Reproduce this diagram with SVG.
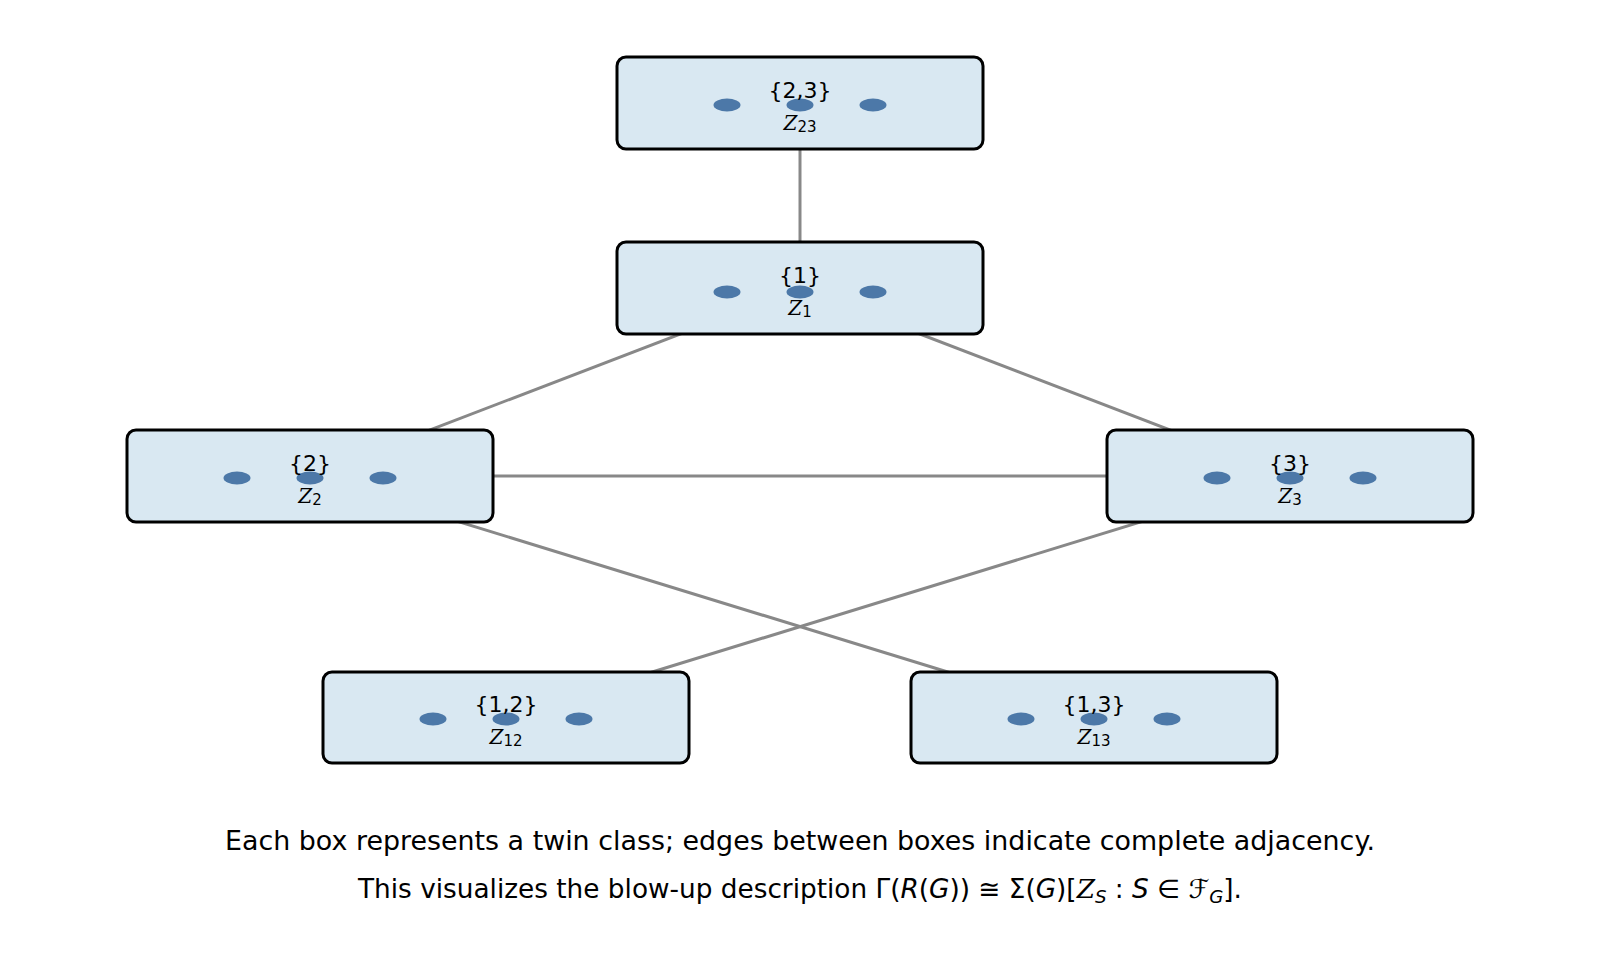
<svg xmlns="http://www.w3.org/2000/svg" width="1600" height="953" viewBox="0 0 1600 953">
<style>
.box{fill:#d9e8f2;stroke:#000;stroke-width:3;}
.dot{fill:#4c78a8;}
.edge{stroke:#888;stroke-width:3;fill:none;}
.lab{font-family:"DejaVu Sans",sans-serif;font-size:22px;fill:#000;text-anchor:middle;}
.z{font-family:"DejaVu Serif",serif;font-style:italic;font-size:20px;fill:#000;text-anchor:middle;}
.sub{font-family:"DejaVu Sans",sans-serif;font-style:normal;font-size:15px;}
.cap{font-family:"DejaVu Sans",sans-serif;font-size:26px;fill:#000;text-anchor:middle;}
.it{font-style:italic;}
</style>
<rect width="1600" height="953" fill="#fff"/>
<g id="connectors">
<line class="edge" x1="800" y1="103" x2="800" y2="288"/>
<line class="edge" x1="800" y1="288" x2="310" y2="476"/>
<line class="edge" x1="800" y1="288" x2="1290" y2="476"/>
<line class="edge" x1="310" y1="476" x2="1290" y2="476"/>
<line class="edge" x1="310" y1="476" x2="1094" y2="717"/>
<line class="edge" x1="1290" y1="476" x2="506" y2="717"/>
</g>
<g id="node-23">
<rect class="box" x="617" y="57" width="366" height="92" rx="9"/>
<ellipse class="dot" cx="727" cy="105" rx="13.5" ry="6.5"/>
<ellipse class="dot" cx="800" cy="105" rx="13.5" ry="6.5"/>
<ellipse class="dot" cx="873" cy="105" rx="13.5" ry="6.5"/>
<text class="lab" x="800" y="98">{2,3}</text>
<text class="z" x="800" y="130">Z<tspan class="sub" dy="2">23</tspan></text>
</g>
<g id="node-1">
<rect class="box" x="617" y="242" width="366" height="92" rx="9"/>
<ellipse class="dot" cx="727" cy="292" rx="13.5" ry="6.5"/>
<ellipse class="dot" cx="800" cy="292" rx="13.5" ry="6.5"/>
<ellipse class="dot" cx="873" cy="292" rx="13.5" ry="6.5"/>
<text class="lab" x="800" y="283">{1}</text>
<text class="z" x="800" y="315">Z<tspan class="sub" dy="2">1</tspan></text>
</g>
<g id="node-2">
<rect class="box" x="127" y="430" width="366" height="92" rx="9"/>
<ellipse class="dot" cx="237" cy="478" rx="13.5" ry="6.5"/>
<ellipse class="dot" cx="310" cy="478" rx="13.5" ry="6.5"/>
<ellipse class="dot" cx="383" cy="478" rx="13.5" ry="6.5"/>
<text class="lab" x="310" y="471">{2}</text>
<text class="z" x="310" y="503">Z<tspan class="sub" dy="2">2</tspan></text>
</g>
<g id="node-3">
<rect class="box" x="1107" y="430" width="366" height="92" rx="9"/>
<ellipse class="dot" cx="1217" cy="478" rx="13.5" ry="6.5"/>
<ellipse class="dot" cx="1290" cy="478" rx="13.5" ry="6.5"/>
<ellipse class="dot" cx="1363" cy="478" rx="13.5" ry="6.5"/>
<text class="lab" x="1290" y="471">{3}</text>
<text class="z" x="1290" y="503">Z<tspan class="sub" dy="2">3</tspan></text>
</g>
<g id="node-12">
<rect class="box" x="323" y="672" width="366" height="91" rx="9"/>
<ellipse class="dot" cx="433" cy="719" rx="13.5" ry="6.5"/>
<ellipse class="dot" cx="506" cy="719" rx="13.5" ry="6.5"/>
<ellipse class="dot" cx="579" cy="719" rx="13.5" ry="6.5"/>
<text class="lab" x="506" y="712">{1,2}</text>
<text class="z" x="506" y="744">Z<tspan class="sub" dy="2">12</tspan></text>
</g>
<g id="node-13">
<rect class="box" x="911" y="672" width="366" height="91" rx="9"/>
<ellipse class="dot" cx="1021" cy="719" rx="13.5" ry="6.5"/>
<ellipse class="dot" cx="1094" cy="719" rx="13.5" ry="6.5"/>
<ellipse class="dot" cx="1167" cy="719" rx="13.5" ry="6.5"/>
<text class="lab" x="1094" y="712">{1,3}</text>
<text class="z" x="1094" y="744">Z<tspan class="sub" dy="2">13</tspan></text>
</g>
<g id="caption">
<text class="cap" x="800" y="850" textLength="1150" lengthAdjust="spacingAndGlyphs">Each box represents a twin class; edges between boxes indicate complete adjacency.</text>
<text class="cap" x="800" y="898" textLength="884" lengthAdjust="spacingAndGlyphs">This visualizes the blow-up description Γ(<tspan class="it">R</tspan>(<tspan class="it">G</tspan>)) ≅ Σ(<tspan class="it">G</tspan>)[<tspan font-family="DejaVu Serif" class="it">Z</tspan><tspan class="it" font-size="18" dy="5">S</tspan><tspan dy="-5"> : </tspan><tspan class="it">S</tspan> ∈ <tspan font-family="DejaVu Sans, DejaVu Serif">ℱ</tspan><tspan class="it" font-size="18" dy="5">G</tspan><tspan dy="-5">].</tspan></text>
</g>
</svg>
